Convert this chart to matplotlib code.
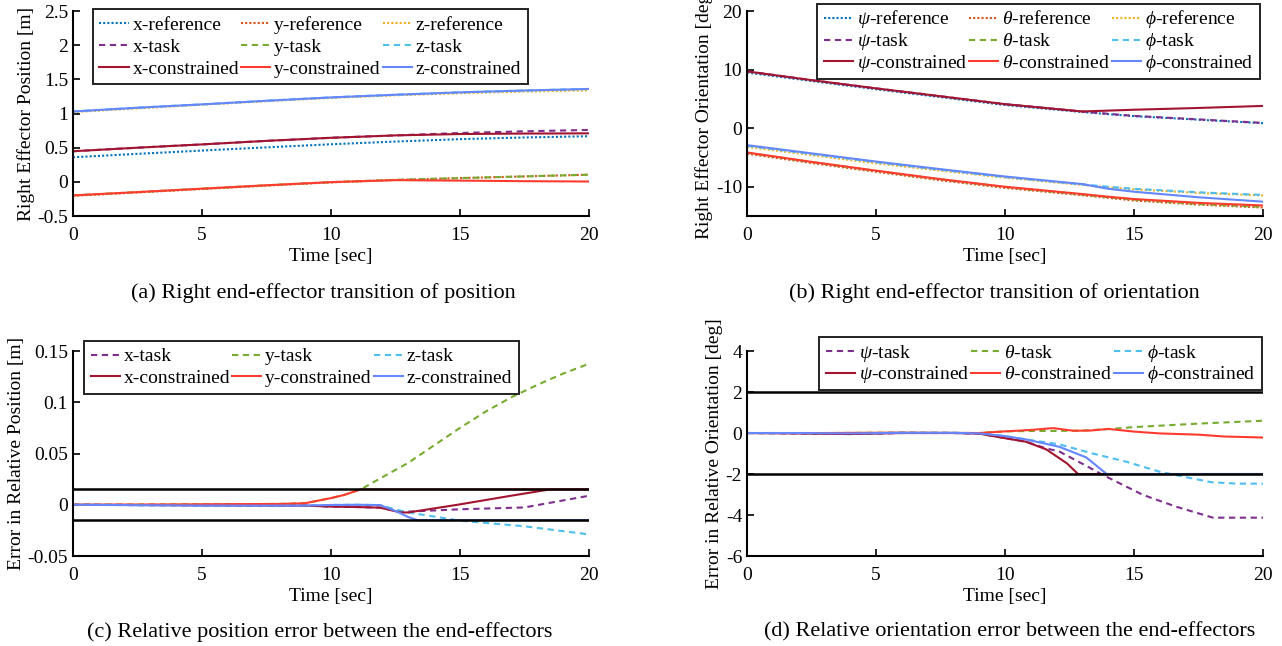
import numpy as np
import matplotlib
matplotlib.use('Agg')
import matplotlib.pyplot as plt
from matplotlib.ticker import FormatStrFormatter
from matplotlib.transforms import Bbox

plt.rcParams['font.family'] = 'serif'
plt.rcParams['font.serif'] = ['Liberation Serif', 'DejaVu Serif']
plt.rcParams['mathtext.fontset'] = 'custom'
plt.rcParams['mathtext.rm'] = 'Liberation Serif'
plt.rcParams['mathtext.it'] = 'Liberation Serif:italic'
plt.rcParams['mathtext.bf'] = 'Liberation Serif:bold'
plt.rcParams['mathtext.fallback'] = 'stix'
plt.rcParams['axes.unicode_minus'] = False

# MATLAB-ish colours
C_REF = ['#0072BD', '#D95319', '#EDB120']
C_TASK = ['#7E2F8E', '#77AC30', '#4DBEEE']
C_CON = ['#A2142F', '#FF3B2F', '#6486FF']

# ---------- (a) right end-effector position [m] ----------
t_a = [0, 2.5, 5, 7.5, 10, 12.5, 15, 17.5, 20]
pos_x_ref = [0.36, 0.41, 0.458, 0.505, 0.55, 0.59, 0.625, 0.65, 0.668]
pos_y_ref = [-0.205, -0.155, -0.105, -0.055, -0.008, 0.028, 0.055, 0.08, 0.105]
pos_z_ref = [1.02, 1.075, 1.128, 1.18, 1.228, 1.267, 1.297, 1.322, 1.34]
pos_x_task = [0.448, 0.50, 0.548, 0.60, 0.645, 0.68, 0.715, 0.74, 0.76]
pos_y_task = [-0.198, -0.15, -0.10, -0.05, -0.004, 0.03, 0.055, 0.08, 0.105]
pos_z_task = [1.03, 1.085, 1.134, 1.187, 1.236, 1.275, 1.31, 1.337, 1.36]
pos_x_con = [0.448, 0.50, 0.548, 0.60, 0.645, 0.68, 0.70, 0.707, 0.71]
pos_y_con = [-0.198, -0.15, -0.10, -0.05, -0.004, 0.025, 0.018, 0.01, 0.005]
pos_z_con = [1.03, 1.085, 1.134, 1.187, 1.236, 1.275, 1.31, 1.337, 1.36]

# ---------- (b) right end-effector orientation [deg] ----------
t_b = [0, 2.5, 5, 7.5, 10, 13, 14, 15, 17.5, 20]
ori_psi_ref = [9.5, 8.05, 6.65, 5.3, 3.95, 2.75, 2.4, 2.05, 1.45, 0.85]
ori_th_ref = [-4.35, -5.95, -7.45, -8.9, -10.2, -11.45, -11.9, -12.35, -13.05, -13.55]
ori_phi_ref = [-3.2, -4.6, -6.0, -7.25, -8.45, -9.7, -10.1, -10.45, -11.05, -11.5]
ori_psi_task = [9.7, 8.2, 6.8, 5.45, 4.1, 2.85, 2.45, 2.1, 1.5, 0.9]
ori_th_task = [-4.2, -5.8, -7.3, -8.75, -10.05, -11.35, -11.8, -12.2, -12.95, -13.45]
ori_phi_task = [-3.0, -4.4, -5.8, -7.1, -8.35, -9.6, -10.0, -10.35, -10.95, -11.4]
ori_psi_con = [9.7, 8.2, 6.8, 5.45, 4.1, 2.85, 3.0, 3.15, 3.45, 3.8]
ori_th_con = [-4.15, -5.75, -7.25, -8.7, -10.0, -11.25, -11.7, -12.1, -12.75, -13.2]
ori_phi_con = [-2.9, -4.3, -5.7, -7.0, -8.25, -9.55, -10.35, -10.85, -11.8, -12.55]

# ---------- (c) relative position error [m] ----------
rp_bound = 0.015
t_rp_x_task = [0, 5, 9, 10, 11, 11.9, 12.7, 13, 15, 17.5, 20]
rp_x_task = [0, -0.0005, -0.0008, -0.0018, -0.0022, -0.0028, -0.0068, -0.0067, -0.0044, -0.0026, 0.0088]
t_rp_y_task = [0, 3, 6, 8, 9, 10, 10.5, 11.15, 12, 13, 14, 15, 16, 17, 18, 19, 20]
rp_y_task = [0, 0.0003, 0.0006, 0.0008, 0.0015, 0.0065, 0.0095, 0.015, 0.027, 0.041,
             0.058, 0.075, 0.091, 0.105, 0.117, 0.128, 0.1376]
t_rp_z_task = [0, 5, 9, 10, 11, 11.9, 12.5, 13, 14, 15, 17.5, 20]
rp_z_task = [0, -0.0008, -0.0008, -0.0002, 0.0, -0.0003, -0.0045, -0.0075, -0.0115, -0.0155, -0.021, -0.0289]
t_rp_x_con = [0, 5, 9, 10, 11, 11.9, 12.7, 13, 15, 17, 18.5, 20]
rp_x_con = [0, -0.0005, -0.0008, -0.0018, -0.0022, -0.0028, -0.0075, -0.0075, 0.0004, 0.0089, 0.015, 0.015]
t_rp_y_con = [0, 3, 6, 8, 9, 10, 10.5, 11.15, 13, 16, 20]
rp_y_con = [0, 0.0003, 0.0006, 0.0008, 0.0015, 0.0065, 0.0095, 0.015, 0.015, 0.015, 0.015]
t_rp_z_con = [0, 5, 9, 10, 11, 11.9, 12.5, 13, 13.35, 20]
rp_z_con = [0, -0.0008, -0.0008, -0.0002, 0.0, -0.0003, -0.006, -0.012, -0.015, -0.015]

# ---------- (d) relative orientation error [deg] ----------
ro_bound = 2.0
t_ro_psi_task = [0, 2, 4, 6, 8, 9, 10, 10.8, 11.6, 12.1, 13, 13.8, 15.35, 16.65, 18.06, 20]
ro_psi_task = [0, -0.02, -0.05, 0.0, 0.0, -0.03, -0.25, -0.42, -0.75, -0.9, -1.5, -2.05, -3.02, -3.6, -4.13, -4.13]
t_ro_th_task = [0, 3, 6, 9, 10, 11, 12, 13, 14, 15, 17.5, 20]
ro_th_task = [0, 0, 0.02, 0, 0.08, 0.1, 0.1, 0.12, 0.19, 0.29, 0.46, 0.6]
t_ro_phi_task = [0, 2, 4, 6, 8, 9, 10, 10.8, 12.1, 13.4, 14.7, 16, 17, 18, 19, 20]
ro_phi_task = [0, 0, -0.02, 0.01, 0.01, -0.02, -0.15, -0.31, -0.55, -1.0, -1.4, -1.89, -2.15, -2.4, -2.47, -2.47]
t_ro_psi_con = [0, 2, 4, 6, 8, 9, 10, 10.8, 11.6, 12.4, 12.83, 20]
ro_psi_con = [0, -0.02, -0.05, 0.0, 0.0, -0.03, -0.25, -0.42, -0.8, -1.48, -2.0, -2.0]
t_ro_th_con = [0, 3, 6, 9, 10, 11, 11.87, 12.65, 13.3, 14.0, 15, 16, 17.5, 18.5, 20]
ro_th_con = [0, 0, 0.02, 0.0, 0.08, 0.15, 0.24, 0.11, 0.12, 0.2, 0.07, -0.02, -0.08, -0.17, -0.22]
t_ro_phi_con = [0, 2, 4, 6, 8, 9, 10, 10.8, 12.1, 13.15, 13.94, 20]
ro_phi_con = [0, 0, -0.02, 0.01, 0.01, -0.02, -0.15, -0.31, -0.67, -1.19, -2.0, -2.0]

FS = 14
LW = 1.5
DOT = (0, (1, 1))
DASH = (0, (3, 2.2))


def style_axes(ax, ylim, yticks, ylabel):
    ax.set_xlim(0, 20)
    ax.set_ylim(*ylim)
    ax.set_xticks([0, 5, 10, 15, 20])
    ax.set_yticks(yticks)
    ax.yaxis.set_major_formatter(FormatStrFormatter('%g'))
    for s in ['top', 'right']:
        ax.spines[s].set_visible(False)
    for s in ['left', 'bottom']:
        ax.spines[s].set_linewidth(1.5)
    ax.tick_params(direction='in', length=5, width=1.2, labelsize=FS)
    ax.tick_params(axis='x', pad=8)
    ax.set_xlabel('Time [sec]', fontsize=FS, labelpad=3)
    ax.set_ylabel(ylabel, fontsize=FS, labelpad=2)


def plain_height(leg, area):
    # give greek (mathtext) labels the same row height as plain text ones
    orig = area.get_bbox

    def get_bbox(renderer):
        bb = orig(renderer)
        _, h, d = renderer.get_text_width_height_descent('lp', leg.prop, ismath=False)
        return Bbox.from_bounds(bb.x0, -d, bb.width, h)
    return get_bbox


def add_legend(ax, handles, anchor, loc):
    leg = ax.legend(handles=handles, ncol=3, loc=loc, bbox_to_anchor=anchor,
                    bbox_transform=ax.transAxes, borderaxespad=0, fontsize=FS,
                    handlelength=1.5, handletextpad=0.2, columnspacing=0.1,
                    labelspacing=0.22, borderpad=0.35, fancybox=False,
                    framealpha=1, edgecolor='#222222')
    leg.get_frame().set_linewidth(1.4)
    for col in leg._legend_handle_box.get_children():
        for row in col.get_children():
            area = row.get_children()[1]
            area.get_bbox = plain_height(leg, area)
    return leg


fig = plt.figure(figsize=(12.82, 6.46), dpi=100)
ax_a = fig.add_axes([0.0569, 0.6656, 0.4025, 0.3173])
ax_b = fig.add_axes([0.5827, 0.6656, 0.4025, 0.3173])
ax_c = fig.add_axes([0.0569, 0.1393, 0.4025, 0.3173])
ax_d = fig.add_axes([0.5827, 0.1393, 0.4025, 0.3173])

# (a)
refs = [ax_a.plot(t_a, v, color=c, lw=LW, ls=DOT, label=n)[0] for v, c, n in
        zip([pos_x_ref, pos_y_ref, pos_z_ref], C_REF, ['x-reference', 'y-reference', 'z-reference'])]
tasks = [ax_a.plot(t_a, v, color=c, lw=LW, ls=DASH, label=n)[0] for v, c, n in
         zip([pos_x_task, pos_y_task, pos_z_task], C_TASK, ['x-task', 'y-task', 'z-task'])]
cons = [ax_a.plot(t_a, v, color=c, lw=LW, label=n)[0] for v, c, n in
        zip([pos_x_con, pos_y_con, pos_z_con], C_CON, ['x-constrained', 'y-constrained', 'z-constrained'])]
style_axes(ax_a, (-0.5, 2.5), [-0.5, 0, 0.5, 1, 1.5, 2, 2.5], 'Right Effector Position [m]')
add_legend(ax_a, [h for trio in zip(refs, tasks, cons) for h in trio], (0.038, 1.008), 'upper left')

# (b)
names_ref = [r'$\psi$-reference', r'$\theta$-reference', r'$\phi$-reference']
names_task = [r'$\psi$-task', r'$\theta$-task', r'$\phi$-task']
names_con = [r'$\psi$-constrained', r'$\theta$-constrained', r'$\phi$-constrained']
refs = [ax_b.plot(t_b, v, color=c, lw=LW, ls=DOT, label=n)[0] for v, c, n in
        zip([ori_psi_ref, ori_th_ref, ori_phi_ref], C_REF, names_ref)]
tasks = [ax_b.plot(t_b, v, color=c, lw=LW, ls=DASH, label=n)[0] for v, c, n in
         zip([ori_psi_task, ori_th_task, ori_phi_task], C_TASK, names_task)]
cons = [ax_b.plot(t_b, v, color=c, lw=LW, label=n)[0] for v, c, n in
        zip([ori_psi_con, ori_th_con, ori_phi_con], C_CON, names_con)]
style_axes(ax_b, (-15, 20), [-10, 0, 10, 20], 'Right Effector Orientation [deg]')
add_legend(ax_b, [h for trio in zip(refs, tasks, cons) for h in trio], (0.994, 1.034), 'upper right')

# (c)
tasks = [ax_c.plot(t, v, color=c, lw=LW, ls=DASH, label=n)[0] for t, v, c, n in
         zip([t_rp_x_task, t_rp_y_task, t_rp_z_task], [rp_x_task, rp_y_task, rp_z_task],
             C_TASK, ['x-task', 'y-task', 'z-task'])]
cons = [ax_c.plot(t, v, color=c, lw=LW, label=n)[0] for t, v, c, n in
        zip([t_rp_x_con, t_rp_y_con, t_rp_z_con], [rp_x_con, rp_y_con, rp_z_con],
            C_CON, ['x-constrained', 'y-constrained', 'z-constrained'])]
ax_c.axhline(rp_bound, color='black', lw=1.8)
ax_c.axhline(-rp_bound, color='black', lw=1.8)
style_axes(ax_c, (-0.05, 0.15), [-0.05, 0, 0.05, 0.1, 0.15], 'Error in Relative Position [m]')
add_legend(ax_c, [h for pair in zip(tasks, cons) for h in pair], (0.021, 1.049), 'upper left')

# (d)
tasks = [ax_d.plot(t, v, color=c, lw=LW, ls=DASH, label=n)[0] for t, v, c, n in
         zip([t_ro_psi_task, t_ro_th_task, t_ro_phi_task], [ro_psi_task, ro_th_task, ro_phi_task],
             C_TASK, names_task)]
cons = [ax_d.plot(t, v, color=c, lw=LW, label=n)[0] for t, v, c, n in
        zip([t_ro_psi_con, t_ro_th_con, t_ro_phi_con], [ro_psi_con, ro_th_con, ro_phi_con],
            C_CON, names_con)]
ax_d.axhline(ro_bound, color='black', lw=1.8)
ax_d.axhline(-ro_bound, color='black', lw=1.8)
style_axes(ax_d, (-6, 4), [-6, -4, -2, 0, 2, 4], 'Error in Relative Orientation [deg]')
add_legend(ax_d, [h for pair in zip(tasks, cons) for h in pair], (0.998, 1.068), 'upper right')

# sub-captions
CAP = 16
fig.text(0.252, 0.5464, '(a) Right end-effector transition of position', ha='center', va='center', fontsize=CAP)
fig.text(0.7756, 0.5464, '(b) Right end-effector transition of orientation', ha='center', va='center', fontsize=CAP)
fig.text(0.249, 0.0217, '(c) Relative position error between the end-effectors', ha='center', va='center', fontsize=CAP)
fig.text(0.7877, 0.0217, '(d) Relative orientation error between the end-effectors', ha='center', va='center', fontsize=CAP)

fig.savefig('out.png', dpi=100)
